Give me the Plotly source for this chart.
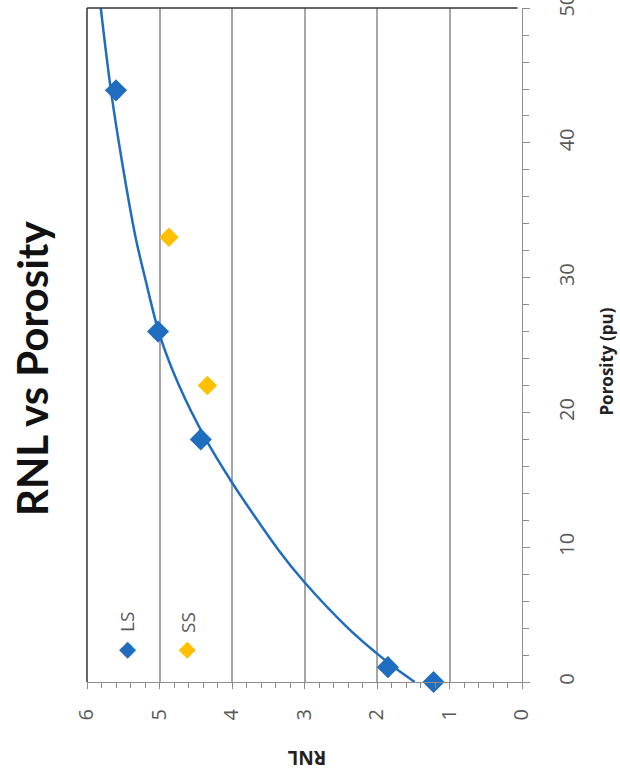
import plotly.graph_objects as go

# ---- data ----
ls_rnl = [1.22, 1.85, 4.43, 5.02, 5.60]
ls_por = [0.0, 1.1, 18.0, 26.0, 43.9]

ss_rnl = [4.34, 4.87]
ss_por = [22.0, 33.0]

trend_por = [0, 1, 2.2, 4, 7.4, 9.8, 13.5, 14.8, 18, 22, 25.8, 30, 33, 38.7, 43.9, 50]
trend_rnl = [1.48, 1.74, 2.02, 2.40, 3.0, 3.36, 3.84, 4.0, 4.36, 4.73, 5.0, 5.2, 5.33, 5.52, 5.67, 5.81]

rnl_ticks = [0, 1, 2, 3, 4, 5, 6]
por_ticks = [0, 10, 20, 30, 40, 50]

BLUE = "#1f6dbf"
GOLD = "#ffc000"
GRID = "#a6a6a6"
TXT = "#595959"
AX = "#8c8c8c"

fig = go.Figure()
fig.add_trace(go.Scatter(x=trend_rnl, y=trend_por, mode="lines",
                         line=dict(color=BLUE, width=2.5, shape="spline", smoothing=1.0),
                         showlegend=False, hoverinfo="skip"))
fig.add_trace(go.Scatter(x=ls_rnl, y=ls_por, mode="markers", name="LS",
                         marker=dict(symbol="diamond", size=17, color=BLUE), showlegend=False, cliponaxis=False))
fig.add_trace(go.Scatter(x=ss_rnl, y=ss_por, mode="markers", name="SS",
                         marker=dict(symbol="diamond", size=15, color=GOLD), showlegend=False, cliponaxis=False))

fig.update_layout(
    width=620, height=776,
    margin=dict(l=87, r=98, t=8, b=94, autoexpand=False),
    paper_bgcolor="white", plot_bgcolor="white",
    font=dict(family="Open Sans", color=TXT),
    xaxis=dict(range=[6, 0], tickvals=rnl_ticks, tickangle=-90, tickfont=dict(size=20, color=TXT),
               showgrid=True, gridcolor=GRID, gridwidth=1.5, zeroline=False, automargin=False,
               showline=True, linecolor=AX, linewidth=1.2,
               ticks="outside", ticklen=6, tickcolor=AX, ticklabelstandoff=12,
               minor=dict(dtick=0.2, ticks="outside", ticklen=5, tickcolor=AX, showgrid=False)),
    yaxis=dict(range=[0, 50.01], side="right", tickvals=por_ticks, tickangle=-90, tickfont=dict(size=20, color=TXT),
               showgrid=False, zeroline=False, ticklabeloverflow="allow", automargin=False,
               showline=True, linecolor=AX, linewidth=1.2,
               ticks="outside", ticklen=7, tickcolor=AX, ticklabelstandoff=20,
               minor=dict(dtick=2, ticks="outside", ticklen=6, tickcolor=AX, showgrid=False)),
    shapes=[
        dict(type="line", xref="paper", yref="paper", x0=0, x1=0.99, y0=1, y1=1, line=dict(color="#333333", width=1.5)),
        dict(type="line", xref="paper", yref="paper", x0=0, x1=0, y0=0, y1=1, line=dict(color="#333333", width=1.5)),
    ],
    annotations=[
        dict(text="<b>RNL vs Porosity</b>", xref="paper", yref="paper", x=-0.126, y=0.466, showarrow=False,
             textangle=-90, font=dict(family="Lato", size=42, color="#111111"), xanchor="center", yanchor="middle"),
        dict(text="<b>Porosity (pu)</b>", xref="paper", yref="paper", x=1.194, y=0.476, showarrow=False,
             textangle=-90, font=dict(family="Open Sans", size=17, color="#222222"), xanchor="center", yanchor="middle"),
        dict(text="<b>RNL</b>", xref="paper", yref="paper", x=0.506, y=-0.113, showarrow=False,
             textangle=180, font=dict(family="Open Sans", size=19, color="#222222"), xanchor="center", yanchor="middle"),
        # legend
        dict(text="◆", xref="paper", yref="paper", x=0.092, y=0.052, showarrow=False,
             font=dict(size=22, color=BLUE), xanchor="center", yanchor="middle"),
        dict(text="LS", xref="paper", yref="paper", x=0.092, y=0.089, showarrow=False, textangle=-90,
             font=dict(size=19, color=TXT), xanchor="center", yanchor="middle"),
        dict(text="◆", xref="paper", yref="paper", x=0.232, y=0.052, showarrow=False,
             font=dict(size=22, color=GOLD), xanchor="center", yanchor="middle"),
        dict(text="SS", xref="paper", yref="paper", x=0.232, y=0.089, showarrow=False, textangle=-90,
             font=dict(size=19, color=TXT), xanchor="center", yanchor="middle"),
    ],
)

fig.write_html("out.html")
